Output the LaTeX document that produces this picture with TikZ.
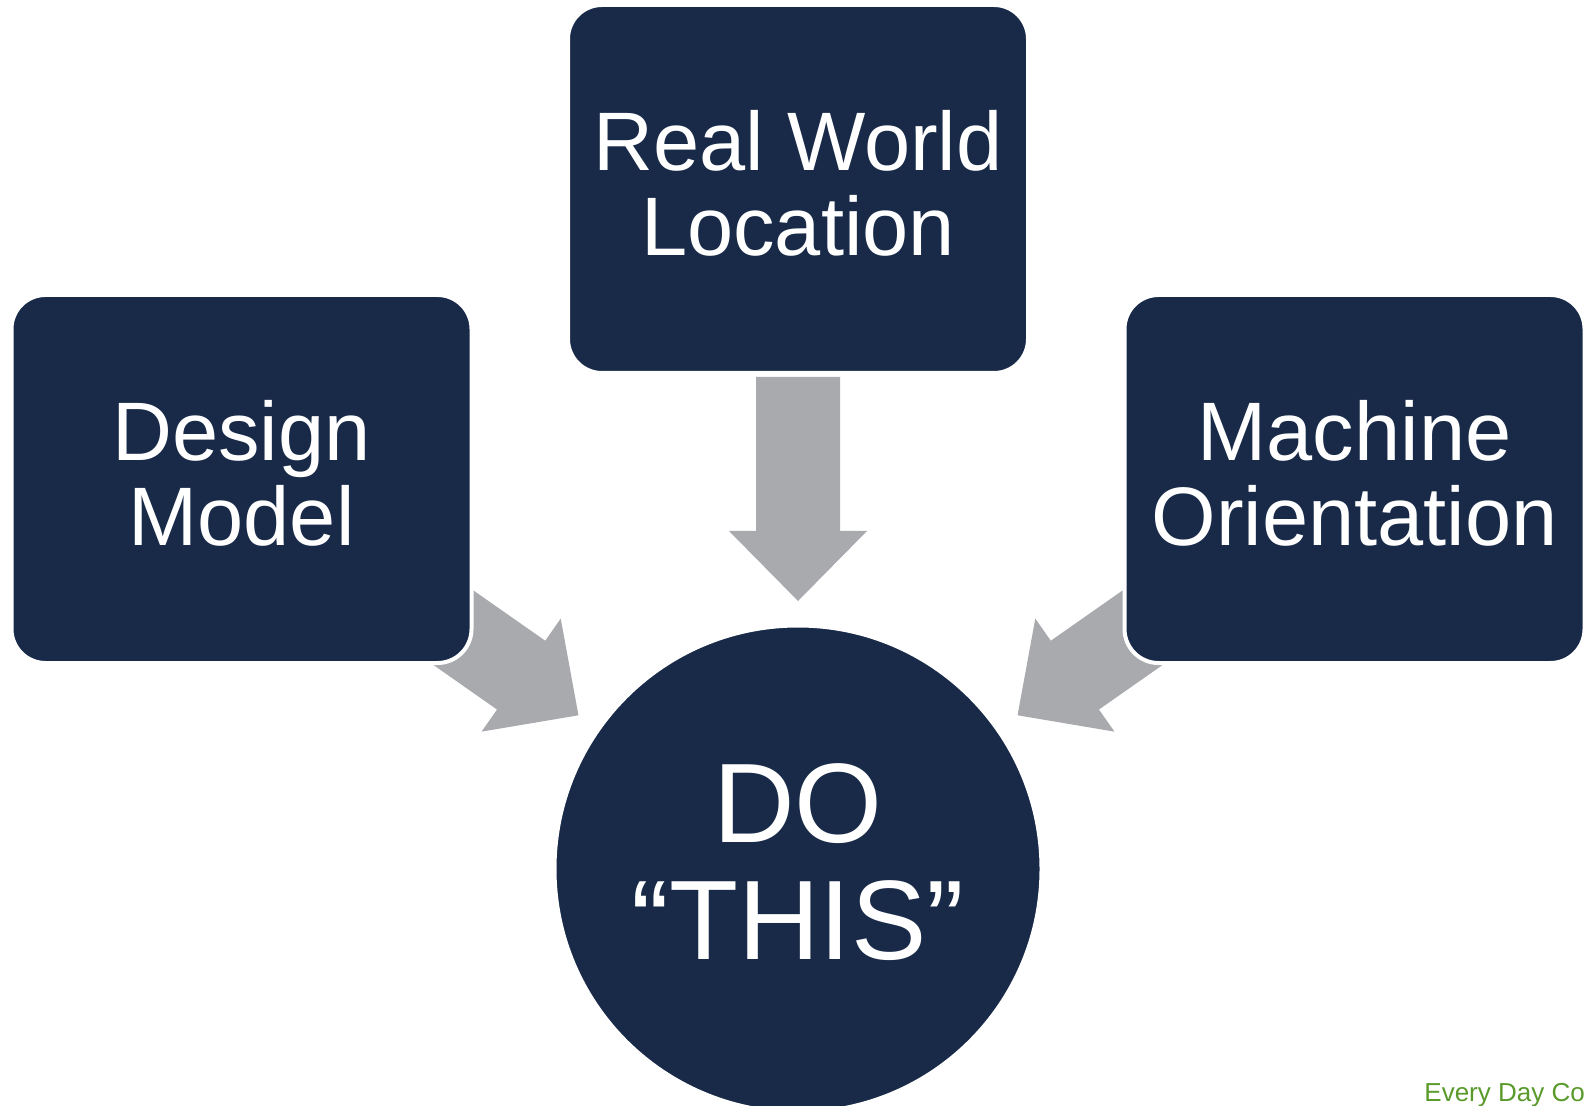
\documentclass[tikz,border=0pt]{standalone}
\usepackage{fontspec}
\setmainfont{Liberation Sans}
\usetikzlibrary{calc}
\definecolor{navy}{HTML}{182A48}
\definecolor{arrowgray}{HTML}{A9AAAE}
\definecolor{leafgreen}{HTML}{5A9A2B}
\tikzset{
  box/.style={rectangle, rounded corners=17pt, fill=navy, draw=white, line width=2pt,
    minimum width=230pt, minimum height=184pt, inner sep=0pt, text=white, align=center,
    text depth=6pt, font=\fontsize{41.5}{42.5}\selectfont},
  bigcircle/.style={circle, fill=navy, draw=white, line width=2pt, minimum size=243.5pt,
    inner sep=0pt, text=white, align=center, text depth=7pt,
    font=\fontsize{56.5}{58.5}\selectfont},
  note/.style={text=leafgreen, font=\fontsize{13}{15}\selectfont, inner sep=0pt},
  blockarrow/.pic={
    \fill[arrowgray] (-42,-224) -- (42,-224) -- (42,-70) -- (69,-70) -- (0,0)
      -- (-69,-70) -- (-42,-70) -- cycle;
  }
}
\begin{document}
\begin{tikzpicture}[x=0.5pt,y=-0.5pt]
  \useasboundingbox (0,0) rectangle (1584,1106);
  \node[bigcircle] (do) at (798,869) {DO\\“THIS”};
  \pic at ($(do)+(270:268)$) {blockarrow};
  \pic[rotate=55] at ($(do)+(215:268)$) {blockarrow};
  \pic[rotate=-55] at ($(do)+(325:268)$) {blockarrow};
  \node[box] (real) at (798,189) {Real World\\Location};
  \node[box] (design) at (241.5,479) {Design\\Model};
  \node[box] (machine) at (1354.5,479) {Machine\\Orientation};
  \node[note, anchor=base west] (credit) at (1424,1101) {Every Day Co};
\end{tikzpicture}
\end{document}
